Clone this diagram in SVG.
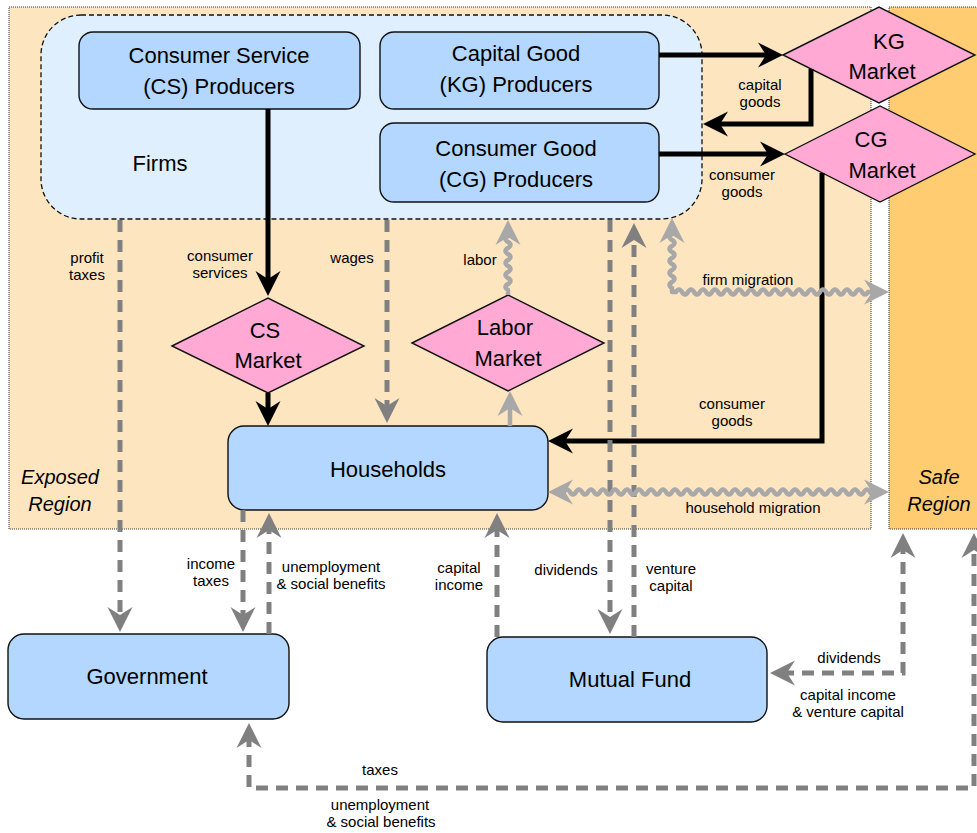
<svg xmlns="http://www.w3.org/2000/svg" width="977" height="833" viewBox="0 0 977 833">
  <style>
    text { font-family: "Liberation Sans", Arial, sans-serif; fill: #000; text-anchor: middle; }
    .big { font-size: 22px; }
    .small { font-size: 15px; }
    .region-label { font-size: 20px; font-style: italic; }
    .box { fill: #B3D7FF; stroke: #111; stroke-width: 1.4; }
    .market { fill: #FFA9D4; stroke: #111; stroke-width: 1.4; }
    .solid { fill: none; stroke: #000; stroke-width: 5; }
    .dashed { fill: none; stroke: #808080; stroke-width: 5; stroke-dasharray: 12 8; }
    .wave { fill: none; stroke: #A8A8A8; stroke-width: 4.5; stroke-linejoin: round; }
  </style>
  <defs>
    <marker id="arrBlack" markerUnits="userSpaceOnUse" viewBox="-26 -14 27 28" markerWidth="27" markerHeight="28" refX="-12" refY="0" orient="auto">
      <path d="M0,0 L-25,-12.5 L-17,0 L-25,12.5 Z" fill="#000"/>
    </marker>
    <marker id="arrGray" markerUnits="userSpaceOnUse" viewBox="-26 -14 27 28" markerWidth="27" markerHeight="28" refX="-12" refY="0" orient="auto">
      <path d="M0,0 L-25,-12.5 L-17,0 L-25,12.5 Z" fill="#808080"/>
    </marker>
    <marker id="arrGrayStart" markerUnits="userSpaceOnUse" viewBox="-26 -14 27 28" markerWidth="27" markerHeight="28" refX="-12" refY="0" orient="auto-start-reverse">
      <path d="M0,0 L-25,-12.5 L-17,0 L-25,12.5 Z" fill="#808080"/>
    </marker>
    <marker id="arrWave" markerUnits="userSpaceOnUse" viewBox="-26 -14 27 28" markerWidth="27" markerHeight="28" refX="-12" refY="0" orient="auto-start-reverse">
      <path d="M0,0 L-25,-12.5 L-17,0 L-25,12.5 Z" fill="#A8A8A8"/>
    </marker>
  </defs>

  <!-- regions -->
  <g id="exposed-region">
    <rect x="9" y="7" width="862" height="522" fill="#FDE5C0" stroke="#333" stroke-width="1" stroke-dasharray="1 1"/>
    <text class="region-label" x="60" y="484">Exposed</text>
    <text class="region-label" x="60" y="511">Region</text>
  </g>
  <g id="safe-region">
    <rect x="889" y="7" width="100" height="522" fill="#FFCC72" stroke="#333" stroke-width="1" stroke-dasharray="1 1"/>
    <text class="region-label" x="939" y="484">Safe</text>
    <text class="region-label" x="939" y="511">Region</text>
  </g>

  <!-- firms container -->
  <g id="firms">
    <rect x="41" y="15" width="661" height="204" rx="40" ry="40" fill="#E0EFFD" stroke="#111" stroke-width="1.3" stroke-dasharray="5 3"/>
    <text class="big" x="160" y="171">Firms</text>
  </g>

  <g id="cs-producers">
    <rect class="box" x="79" y="32" width="281" height="77" rx="14"/>
    <text class="big" x="219" y="63">Consumer Service</text>
    <text class="big" x="219" y="94">(CS) Producers</text>
  </g>
  <g id="kg-producers">
    <rect class="box" x="380" y="32" width="279" height="77" rx="14"/>
    <text class="big" x="516" y="61">Capital Good</text>
    <text class="big" x="516" y="92">(KG) Producers</text>
  </g>
  <g id="cg-producers">
    <rect class="box" x="380" y="123" width="279" height="79" rx="14"/>
    <text class="big" x="516" y="156">Consumer Good</text>
    <text class="big" x="516" y="187">(CG) Producers</text>
  </g>

  <g id="kg-market">
    <polygon class="market" points="783,55 879,7 975,55 879,103"/>
    <text class="big" x="889" y="49">KG</text>
    <text class="big" x="882" y="79">Market</text>
  </g>
  <g id="cg-market">
    <polygon class="market" points="785,154 880,106 975,154 880,202"/>
    <text class="big" x="871" y="147">CG</text>
    <text class="big" x="882" y="178">Market</text>
  </g>
  <g id="cs-market">
    <polygon class="market" points="172,346 268,298 364,346 268,393"/>
    <text class="big" x="265" y="338">CS</text>
    <text class="big" x="268" y="368">Market</text>
  </g>
  <g id="labor-market">
    <polygon class="market" points="412,343 508,295 604,343 508,391"/>
    <text class="big" x="505" y="335">Labor</text>
    <text class="big" x="508" y="366">Market</text>
  </g>

  <g id="households">
    <rect class="box" x="228" y="426" width="320" height="84" rx="16"/>
    <text class="big" x="388" y="477">Households</text>
  </g>
  <g id="government">
    <rect class="box" x="8" y="634" width="281" height="85" rx="16"/>
    <text class="big" x="147" y="684">Government</text>
  </g>
  <g id="mutual-fund">
    <rect class="box" x="487" y="637" width="280" height="85" rx="16"/>
    <text class="big" x="630" y="687">Mutual Fund</text>
  </g>

  <!-- connectors -->
  <g id="connectors">
    <!-- goods flows -->
    <path class="solid" d="M268,109 V284" marker-end="url(#arrBlack)"/>
    <path class="solid" d="M268,393 V414" marker-end="url(#arrBlack)"/>
    <path class="solid" d="M659,55 H771" marker-end="url(#arrBlack)"/>
    <path class="solid" d="M811,69 V124 H715" marker-end="url(#arrBlack)"/>
    <path class="solid" d="M659,154 H773" marker-end="url(#arrBlack)"/>
    <path class="solid" d="M822,173 V441 H560" marker-end="url(#arrBlack)"/>

    <!-- money flows -->
    <path class="dashed" d="M120,220 V620" marker-end="url(#arrGray)"/>
    <path class="dashed" d="M387,220 V411" marker-end="url(#arrGray)"/>
    <path class="dashed" d="M610,220 V622" marker-end="url(#arrGray)"/>
    <path class="dashed" d="M634,637 V235" marker-end="url(#arrGray)"/>
    <path class="dashed" d="M243,510 V620" marker-end="url(#arrGray)"/>
    <path class="dashed" d="M269,634 V525" marker-end="url(#arrGray)"/>
    <path class="dashed" d="M497,637 V525" marker-end="url(#arrGray)"/>
    <path class="dashed" d="M782,673 H903 V545" marker-start="url(#arrGrayStart)" marker-end="url(#arrGray)"/>
    <path class="dashed" d="M249,735 V788 H974 V545" marker-start="url(#arrGrayStart)" marker-end="url(#arrGray)"/>

    <!-- labor and migration flows -->
    <path class="wave" d="M510,426 V403" marker-end="url(#arrWave)"/>
    <path class="wave" d="M508,295 v-5 q-5,-3 0,-6 t0,-6 t0,-6 t0,-6 t0,-6 t0,-6 t0,-6 t0,-6 t0,-6 v-4" marker-end="url(#arrWave)"/>
    <path class="wave" d="M672,230 v4 q-5,3 0,6 t0,6 t0,6 t0,6 t0,6 t0,6 t0,6 t0,6 t0,6 v4 h4 q3,-5 6,0 t6,0 t6,0 t6,0 t6,0 t6,0 t6,0 t6,0 t6,0 t6,0 t6,0 t6,0 t6,0 t6,0 t6,0 t6,0 t6,0 t6,0 t6,0 t6,0 t6,0 t6,0 t6,0 t6,0 t6,0 t6,0 t6,0 t6,0 t6,0 t6,0 t6,0 t6,0 h9" marker-start="url(#arrWave)" marker-end="url(#arrWave)"/>
    <path class="wave" d="M560,492 h4 q3,-5 6,0 t6,0 t6,0 t6,0 t6,0 t6,0 t6,0 t6,0 t6,0 t6,0 t6,0 t6,0 t6,0 t6,0 t6,0 t6,0 t6,0 t6,0 t6,0 t6,0 t6,0 t6,0 t6,0 t6,0 t6,0 t6,0 t6,0 t6,0 t6,0 t6,0 t6,0 t6,0 t6,0 t6,0 t6,0 t6,0 t6,0 t6,0 t6,0 t6,0 t6,0 t6,0 t6,0 t6,0 t6,0 t6,0 t6,0 t6,0 t6,0 t6,0 t6,0 t6,0 h1" marker-start="url(#arrWave)" marker-end="url(#arrWave)"/>

    <!-- connector labels -->
    <text class="small" x="760" y="90">capital</text>
    <text class="small" x="760" y="107">goods</text>
    <text class="small" x="742" y="180">consumer</text>
    <text class="small" x="742" y="197">goods</text>
    <text class="small" x="87" y="263">profit</text>
    <text class="small" x="87" y="280">taxes</text>
    <text class="small" x="220" y="261">consumer</text>
    <text class="small" x="220" y="278">services</text>
    <text class="small" x="352" y="263">wages</text>
    <text class="small" x="480" y="265">labor</text>
    <text class="small" x="748" y="285">firm migration</text>
    <text class="small" x="732" y="409">consumer</text>
    <text class="small" x="732" y="426">goods</text>
    <text class="small" x="753" y="513">household migration</text>
    <text class="small" x="211" y="569">income</text>
    <text class="small" x="211" y="586">taxes</text>
    <text class="small" x="331" y="572">unemployment</text>
    <text class="small" x="331" y="589">&amp; social benefits</text>
    <text class="small" x="459" y="573">capital</text>
    <text class="small" x="459" y="590">income</text>
    <text class="small" x="566" y="575">dividends</text>
    <text class="small" x="671" y="574">venture</text>
    <text class="small" x="671" y="591">capital</text>
    <text class="small" x="849" y="663">dividends</text>
    <text class="small" x="848" y="700">capital income</text>
    <text class="small" x="848" y="717">&amp; venture capital</text>
    <text class="small" x="380" y="775">taxes</text>
    <text class="small" x="380" y="810">unemployment</text>
    <text class="small" x="381" y="827">&amp; social benefits</text>
  </g>
</svg>
